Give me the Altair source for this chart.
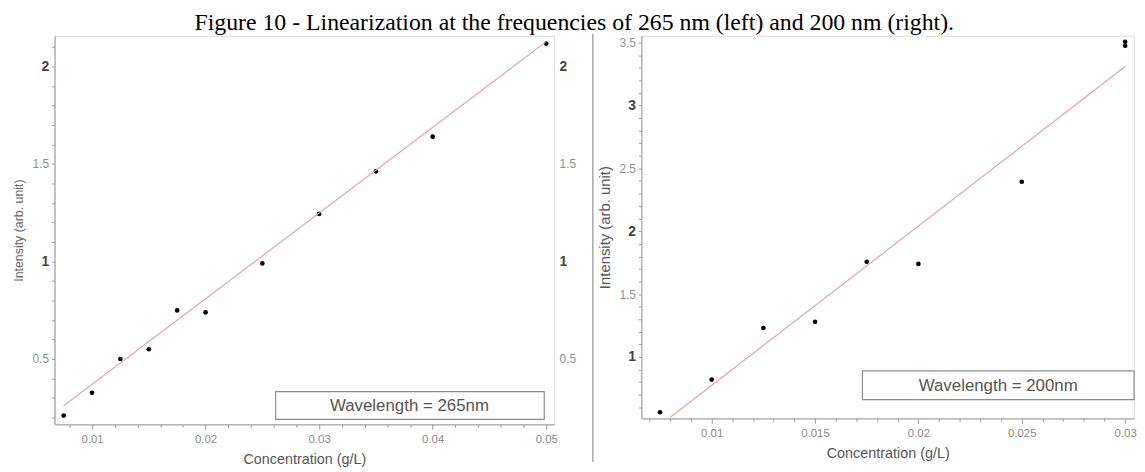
import altair as alt
import pandas as pd

# ---- data ----
left_conc = [0.0075, 0.01, 0.0125, 0.015, 0.0175, 0.02, 0.025, 0.03, 0.035, 0.04, 0.05]
left_int = [0.21, 0.327, 0.50, 0.55, 0.749, 0.739, 0.99, 1.244, 1.462, 1.64, 2.117]
left_fit_conc = [0.0075, 0.05]
left_fit_int = [0.26, 2.127]

right_conc = [0.0075, 0.01, 0.0125, 0.015, 0.0175, 0.02, 0.025, 0.03, 0.03]
right_int = [0.56, 0.82, 1.23, 1.28, 1.757, 1.74, 2.394, 3.508, 3.476]
right_fit_conc = [0.008, 0.03]
right_fit_int = [0.52, 3.31]

left_label = "Wavelength = 265nm"
right_label = "Wavelength = 200nm"
title_text = "Figure 10 - Linearization at the frequencies of 265 nm (left) and 200 nm (right)."
x_title = "Concentration (g/L)"
y_title = "Intensity (arb. unit)"

left_xticks = [round(0.008 + 0.002 * i, 3) for i in range(22)]
left_yticks = [round(0.2 + 0.1 * i, 1) for i in range(20)]
left_ylabels_right = [0.5, 1, 1.5, 2]
right_xticks = [round(0.007 + 0.001 * i, 3) for i in range(24)]
right_yticks = [round(0.6 + 0.1 * i, 1) for i in range(30)]

FONT = "Liberation Sans"
FRAME = "#9a9a9a"

left_pts = pd.DataFrame({"c": left_conc, "i": left_int})
left_fit = pd.DataFrame({"c": left_fit_conc, "i": left_fit_int})
right_pts = pd.DataFrame({"c": right_conc, "i": right_int})
right_fit = pd.DataFrame({"c": right_fit_conc, "i": right_fit_int})
one = pd.DataFrame({"k": [0]})


def major_test(mult):
    return f"abs(datum.value*{mult} - round(datum.value*{mult})) < 1e-6"


def xaxis(values, mult):
    return alt.Axis(
        values=values,
        title=x_title,
        titleFont=FONT, titleFontSize=14.5, titleFontWeight="normal", titleColor="#555",
        titlePadding=8,
        labelExpr=f"{major_test(mult)} ? format(datum.value, '~g') : ''",
        labelFont=FONT, labelFontSize=11.5, labelColor="#8a8a8a", labelPadding=4,
        labelOverlap=False, labelBound=False, labelFlush=False,
        tickSize={"condition": {"test": major_test(mult), "value": 5}, "value": 3},
        tickColor="#999", domainColor=FRAME, grid=False,
    )


def label_style():
    return dict(
        labelFont=FONT,
        labelFontSize={"condition": {"test": major_test(1), "value": 14}, "value": 12},
        labelFontWeight={"condition": {"test": major_test(1), "value": "bold"}, "value": "normal"},
        labelColor={"condition": {"test": major_test(1), "value": "#444"}, "value": "#8f8f8f"},
        labelOverlap=False, labelBound=False, labelFlush=False,
    )


def yaxis(values, title_size, title_color, title_pad):
    return alt.Axis(
        values=values,
        title=y_title,
        titleFont=FONT, titleFontSize=title_size, titleFontWeight="normal", titleColor=title_color,
        titlePadding=title_pad,
        labelExpr=f"{major_test(2)} ? format(datum.value, '~g') : ''",
        labelPadding=3, tickSize=3, tickColor="#999", domainColor=FRAME, grid=False,
        **label_style(),
    )


# ---------------- left panel ----------------
lx = alt.Scale(domain=[0.0067, 0.0507], nice=False, zero=False)
ly = alt.Scale(domain=[0.165, 2.157], nice=False, zero=False)
left_x_axis = xaxis(left_xticks, 100)

left_points = alt.Chart(left_pts).mark_circle(size=22, color="black", opacity=1).encode(
    x=alt.X("c:Q", scale=lx, axis=left_x_axis),
    y=alt.Y("i:Q", scale=ly, axis=yaxis(left_yticks, 12.5, "#666", 7)),
)
left_line = alt.Chart(left_fit).mark_line(color="#e6a3a3", strokeWidth=1.2).encode(
    x=alt.X("c:Q", scale=lx, axis=left_x_axis),
    y=alt.Y("i:Q", scale=ly, axis=alt.Axis(
        orient="right", values=left_ylabels_right, title=None, ticks=False, domain=False,
        labelExpr="format(datum.value, '~g')", labelPadding=5, grid=False,
        **label_style())),
)
left_box = alt.Chart(one).mark_rect(fill="white", stroke="#8c8c8c", strokeWidth=1.2).encode(
    x=alt.value(223), x2=alt.value(494), y=alt.value(359), y2=alt.value(387)
)
left_text = alt.Chart(one).mark_text(
    text=left_label, font=FONT, fontSize=17, color="#555", align="center", baseline="middle"
).encode(x=alt.value(358), y=alt.value(374))

left_chart = alt.layer(left_points, left_line, left_box, left_text).resolve_axis(
    y="independent"
).properties(width=504, height=392)

# ---------------- right panel ----------------
rx = alt.Scale(domain=[0.0066, 0.03043], nice=False, zero=False)
ry = alt.Scale(domain=[0.511, 3.555], nice=False, zero=False)
right_x_axis = xaxis(right_xticks, 200)
right_y_axis = yaxis(right_yticks, 15, "#555", 6)

right_points = alt.Chart(right_pts).mark_circle(size=22, color="black", opacity=1).encode(
    x=alt.X("c:Q", scale=rx, axis=right_x_axis),
    y=alt.Y("i:Q", scale=ry, axis=right_y_axis),
)
right_line = alt.Chart(right_fit).mark_line(color="#e6a3a3", strokeWidth=1.2).encode(
    x=alt.X("c:Q", scale=rx, axis=right_x_axis),
    y=alt.Y("i:Q", scale=ry, axis=right_y_axis),
)
right_box = alt.Chart(one).mark_rect(fill="white", stroke="#8c8c8c", strokeWidth=1.2).encode(
    x=alt.value(223), x2=alt.value(497), y=alt.value(338), y2=alt.value(367)
)
right_text = alt.Chart(one).mark_text(
    text=right_label, font=FONT, fontSize=17, color="#555", align="center", baseline="middle"
).encode(x=alt.value(360), y=alt.value(353))
separator = alt.Chart(one).mark_rule(color="#a8a8a8", strokeWidth=1.5).encode(
    x=alt.value(-49), y=alt.value(-2), y2=alt.value(430)
)

right_chart = alt.layer(right_points, right_line, right_box, right_text, separator).properties(
    width=497, height=386
)

chart = alt.hconcat(left_chart, right_chart, spacing=14).properties(
    title=alt.TitleParams(
        text=title_text, font="Liberation Serif", fontSize=24, fontWeight="normal",
        color="black", anchor="middle", frame="bounds", offset=-2,
    ),
    padding={"left": 3, "top": 0, "right": 0, "bottom": 0},
).configure_view(stroke=FRAME, strokeWidth=1).configure(background="white")

chart.save("out.html", embed_options={"renderer": "svg", "actions": False})
